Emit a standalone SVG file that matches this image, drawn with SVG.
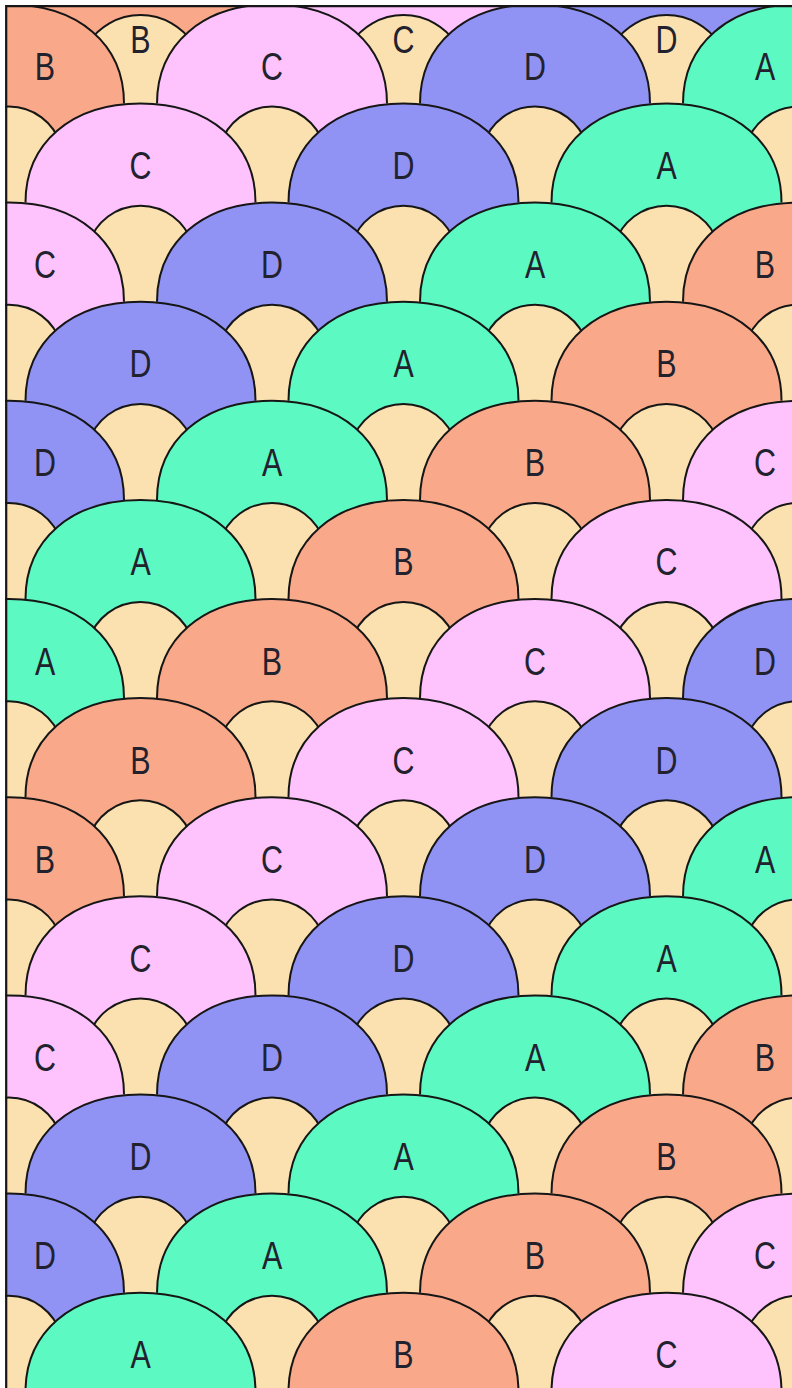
<svg xmlns="http://www.w3.org/2000/svg" xmlns:xlink="http://www.w3.org/1999/xlink" width="792" height="1388" viewBox="0 0 792 1388">
<style>
.ln{fill:none;stroke:#161616;stroke-width:2}
.tf{fill:#FBE0B0;stroke:none}
.df{stroke:none}
.A{fill:#5CF9C2}.B{fill:#F9A98A}.C{fill:#FEC2FC}.D{fill:#9193F4}
text{font-family:"Liberation Sans",Arial,sans-serif;font-size:39px;fill:#22222e;text-anchor:middle;transform-box:fill-box;transform-origin:center;transform:scaleX(0.78)}
</style>
<defs>
<g id="dome"><path class="df" d="M-115 0C-115-59.5-69-99.1 0-99.1S115-59.5 115 0V99.8H-115Z"/><path class="ln" d="M-115 0C-115-59.5-69-99.1 0-99.1S115-59.5 115 0"/></g>
<g id="cap"><path class="tf" d="M-52-57.1A54.2 54.2 0 0 1 52-57.1V1H-52Z"/><path class="ln" d="M-52-57.1A54.2 54.2 0 0 1 52-57.1"/></g>
<g id="cap0"><path class="tf" d="M-52-60.9A62.8 62.8 0 0 1 52-60.9V1H-52Z"/><path class="ln" d="M-52-60.9A62.8 62.8 0 0 1 52-60.9"/></g>
</defs>
<rect x="0" y="0" width="792" height="1388" fill="#FBE0B0"/>
<g id="tiles">
<g id="row-m1">
<g id="t-m1-0"><use href="#dome" class="B" x="140.5" y="4.4"/></g>
<g id="t-m1-1"><use href="#dome" class="C" x="403.5" y="4.4"/></g>
<g id="t-m1-2"><use href="#dome" class="D" x="666.5" y="4.4"/></g>
</g>
<g id="row-0">
<g id="g-0-0"><use href="#cap0" x="140.5" y="103.5"/><text x="140.5" y="53">B</text></g>
<g id="g-0-1"><use href="#cap0" x="403.5" y="103.5"/><text x="403.5" y="53">C</text></g>
<g id="g-0-2"><use href="#cap0" x="666.5" y="103.5"/><text x="666.5" y="53">D</text></g>
<g id="t-0-0"><use href="#dome" class="B" x="9" y="103.5"/><text x="45" y="80">B</text></g>
<g id="t-0-1"><use href="#dome" class="C" x="272" y="103.5"/><text x="272" y="80">C</text></g>
<g id="t-0-2"><use href="#dome" class="D" x="535" y="103.5"/><text x="535" y="80">D</text></g>
<g id="t-0-3"><use href="#dome" class="A" x="798" y="103.5"/><text x="765" y="80">A</text></g>
</g>
<g id="row-1">
<use href="#cap" x="9" y="202.6"/><use href="#cap" x="272" y="202.6"/><use href="#cap" x="535" y="202.6"/><use href="#cap" x="798" y="202.6"/>
<g id="t-1-0"><use href="#dome" class="C" x="140.5" y="202.6"/><text x="140.5" y="179.1">C</text></g>
<g id="t-1-1"><use href="#dome" class="D" x="403.5" y="202.6"/><text x="403.5" y="179.1">D</text></g>
<g id="t-1-2"><use href="#dome" class="A" x="666.5" y="202.6"/><text x="666.5" y="179.1">A</text></g>
</g>
<g id="row-2">
<use href="#cap" x="140.5" y="301.7"/><use href="#cap" x="403.5" y="301.7"/><use href="#cap" x="666.5" y="301.7"/>
<g id="t-2-0"><use href="#dome" class="C" x="9" y="301.7"/><text x="45" y="278.2">C</text></g>
<g id="t-2-1"><use href="#dome" class="D" x="272" y="301.7"/><text x="272" y="278.2">D</text></g>
<g id="t-2-2"><use href="#dome" class="A" x="535" y="301.7"/><text x="535" y="278.2">A</text></g>
<g id="t-2-3"><use href="#dome" class="B" x="798" y="301.7"/><text x="765" y="278.2">B</text></g>
</g>
<g id="row-3">
<use href="#cap" x="9" y="400.8"/><use href="#cap" x="272" y="400.8"/><use href="#cap" x="535" y="400.8"/><use href="#cap" x="798" y="400.8"/>
<g id="t-3-0"><use href="#dome" class="D" x="140.5" y="400.8"/><text x="140.5" y="377.3">D</text></g>
<g id="t-3-1"><use href="#dome" class="A" x="403.5" y="400.8"/><text x="403.5" y="377.3">A</text></g>
<g id="t-3-2"><use href="#dome" class="B" x="666.5" y="400.8"/><text x="666.5" y="377.3">B</text></g>
</g>
<g id="row-4">
<use href="#cap" x="140.5" y="499.9"/><use href="#cap" x="403.5" y="499.9"/><use href="#cap" x="666.5" y="499.9"/>
<g id="t-4-0"><use href="#dome" class="D" x="9" y="499.9"/><text x="45" y="476.4">D</text></g>
<g id="t-4-1"><use href="#dome" class="A" x="272" y="499.9"/><text x="272" y="476.4">A</text></g>
<g id="t-4-2"><use href="#dome" class="B" x="535" y="499.9"/><text x="535" y="476.4">B</text></g>
<g id="t-4-3"><use href="#dome" class="C" x="798" y="499.9"/><text x="765" y="476.4">C</text></g>
</g>
<g id="row-5">
<use href="#cap" x="9" y="599"/><use href="#cap" x="272" y="599"/><use href="#cap" x="535" y="599"/><use href="#cap" x="798" y="599"/>
<g id="t-5-0"><use href="#dome" class="A" x="140.5" y="599"/><text x="140.5" y="575.5">A</text></g>
<g id="t-5-1"><use href="#dome" class="B" x="403.5" y="599"/><text x="403.5" y="575.5">B</text></g>
<g id="t-5-2"><use href="#dome" class="C" x="666.5" y="599"/><text x="666.5" y="575.5">C</text></g>
</g>
<g id="row-6">
<use href="#cap" x="140.5" y="698.1"/><use href="#cap" x="403.5" y="698.1"/><use href="#cap" x="666.5" y="698.1"/>
<g id="t-6-0"><use href="#dome" class="A" x="9" y="698.1"/><text x="45" y="674.6">A</text></g>
<g id="t-6-1"><use href="#dome" class="B" x="272" y="698.1"/><text x="272" y="674.6">B</text></g>
<g id="t-6-2"><use href="#dome" class="C" x="535" y="698.1"/><text x="535" y="674.6">C</text></g>
<g id="t-6-3"><use href="#dome" class="D" x="798" y="698.1"/><text x="765" y="674.6">D</text></g>
</g>
<g id="row-7">
<use href="#cap" x="9" y="797.2"/><use href="#cap" x="272" y="797.2"/><use href="#cap" x="535" y="797.2"/><use href="#cap" x="798" y="797.2"/>
<g id="t-7-0"><use href="#dome" class="B" x="140.5" y="797.2"/><text x="140.5" y="773.7">B</text></g>
<g id="t-7-1"><use href="#dome" class="C" x="403.5" y="797.2"/><text x="403.5" y="773.7">C</text></g>
<g id="t-7-2"><use href="#dome" class="D" x="666.5" y="797.2"/><text x="666.5" y="773.7">D</text></g>
</g>
<g id="row-8">
<use href="#cap" x="140.5" y="896.3"/><use href="#cap" x="403.5" y="896.3"/><use href="#cap" x="666.5" y="896.3"/>
<g id="t-8-0"><use href="#dome" class="B" x="9" y="896.3"/><text x="45" y="872.8">B</text></g>
<g id="t-8-1"><use href="#dome" class="C" x="272" y="896.3"/><text x="272" y="872.8">C</text></g>
<g id="t-8-2"><use href="#dome" class="D" x="535" y="896.3"/><text x="535" y="872.8">D</text></g>
<g id="t-8-3"><use href="#dome" class="A" x="798" y="896.3"/><text x="765" y="872.8">A</text></g>
</g>
<g id="row-9">
<use href="#cap" x="9" y="995.4"/><use href="#cap" x="272" y="995.4"/><use href="#cap" x="535" y="995.4"/><use href="#cap" x="798" y="995.4"/>
<g id="t-9-0"><use href="#dome" class="C" x="140.5" y="995.4"/><text x="140.5" y="971.9">C</text></g>
<g id="t-9-1"><use href="#dome" class="D" x="403.5" y="995.4"/><text x="403.5" y="971.9">D</text></g>
<g id="t-9-2"><use href="#dome" class="A" x="666.5" y="995.4"/><text x="666.5" y="971.9">A</text></g>
</g>
<g id="row-10">
<use href="#cap" x="140.5" y="1094.5"/><use href="#cap" x="403.5" y="1094.5"/><use href="#cap" x="666.5" y="1094.5"/>
<g id="t-10-0"><use href="#dome" class="C" x="9" y="1094.5"/><text x="45" y="1071">C</text></g>
<g id="t-10-1"><use href="#dome" class="D" x="272" y="1094.5"/><text x="272" y="1071">D</text></g>
<g id="t-10-2"><use href="#dome" class="A" x="535" y="1094.5"/><text x="535" y="1071">A</text></g>
<g id="t-10-3"><use href="#dome" class="B" x="798" y="1094.5"/><text x="765" y="1071">B</text></g>
</g>
<g id="row-11">
<use href="#cap" x="9" y="1193.6"/><use href="#cap" x="272" y="1193.6"/><use href="#cap" x="535" y="1193.6"/><use href="#cap" x="798" y="1193.6"/>
<g id="t-11-0"><use href="#dome" class="D" x="140.5" y="1193.6"/><text x="140.5" y="1170.1">D</text></g>
<g id="t-11-1"><use href="#dome" class="A" x="403.5" y="1193.6"/><text x="403.5" y="1170.1">A</text></g>
<g id="t-11-2"><use href="#dome" class="B" x="666.5" y="1193.6"/><text x="666.5" y="1170.1">B</text></g>
</g>
<g id="row-12">
<use href="#cap" x="140.5" y="1292.7"/><use href="#cap" x="403.5" y="1292.7"/><use href="#cap" x="666.5" y="1292.7"/>
<g id="t-12-0"><use href="#dome" class="D" x="9" y="1292.7"/><text x="45" y="1269.2">D</text></g>
<g id="t-12-1"><use href="#dome" class="A" x="272" y="1292.7"/><text x="272" y="1269.2">A</text></g>
<g id="t-12-2"><use href="#dome" class="B" x="535" y="1292.7"/><text x="535" y="1269.2">B</text></g>
<g id="t-12-3"><use href="#dome" class="C" x="798" y="1292.7"/><text x="765" y="1269.2">C</text></g>
</g>
<g id="row-13">
<use href="#cap" x="9" y="1391.8"/><use href="#cap" x="272" y="1391.8"/><use href="#cap" x="535" y="1391.8"/><use href="#cap" x="798" y="1391.8"/>
<g id="t-13-0"><use href="#dome" class="A" x="140.5" y="1391.8"/><text x="140.5" y="1368.3">A</text></g>
<g id="t-13-1"><use href="#dome" class="B" x="403.5" y="1391.8"/><text x="403.5" y="1368.3">B</text></g>
<g id="t-13-2"><use href="#dome" class="C" x="666.5" y="1391.8"/><text x="666.5" y="1368.3">C</text></g>
</g>
</g>
<g id="frame">
<rect x="0" y="0" width="792" height="5.1" fill="#ffffff"/>
<rect x="0" y="0" width="5.1" height="1388" fill="#ffffff"/>
<path d="M6.2 1388V6.2H792" fill="none" stroke="#161616" stroke-width="2.2"/>
</g>
</svg>
